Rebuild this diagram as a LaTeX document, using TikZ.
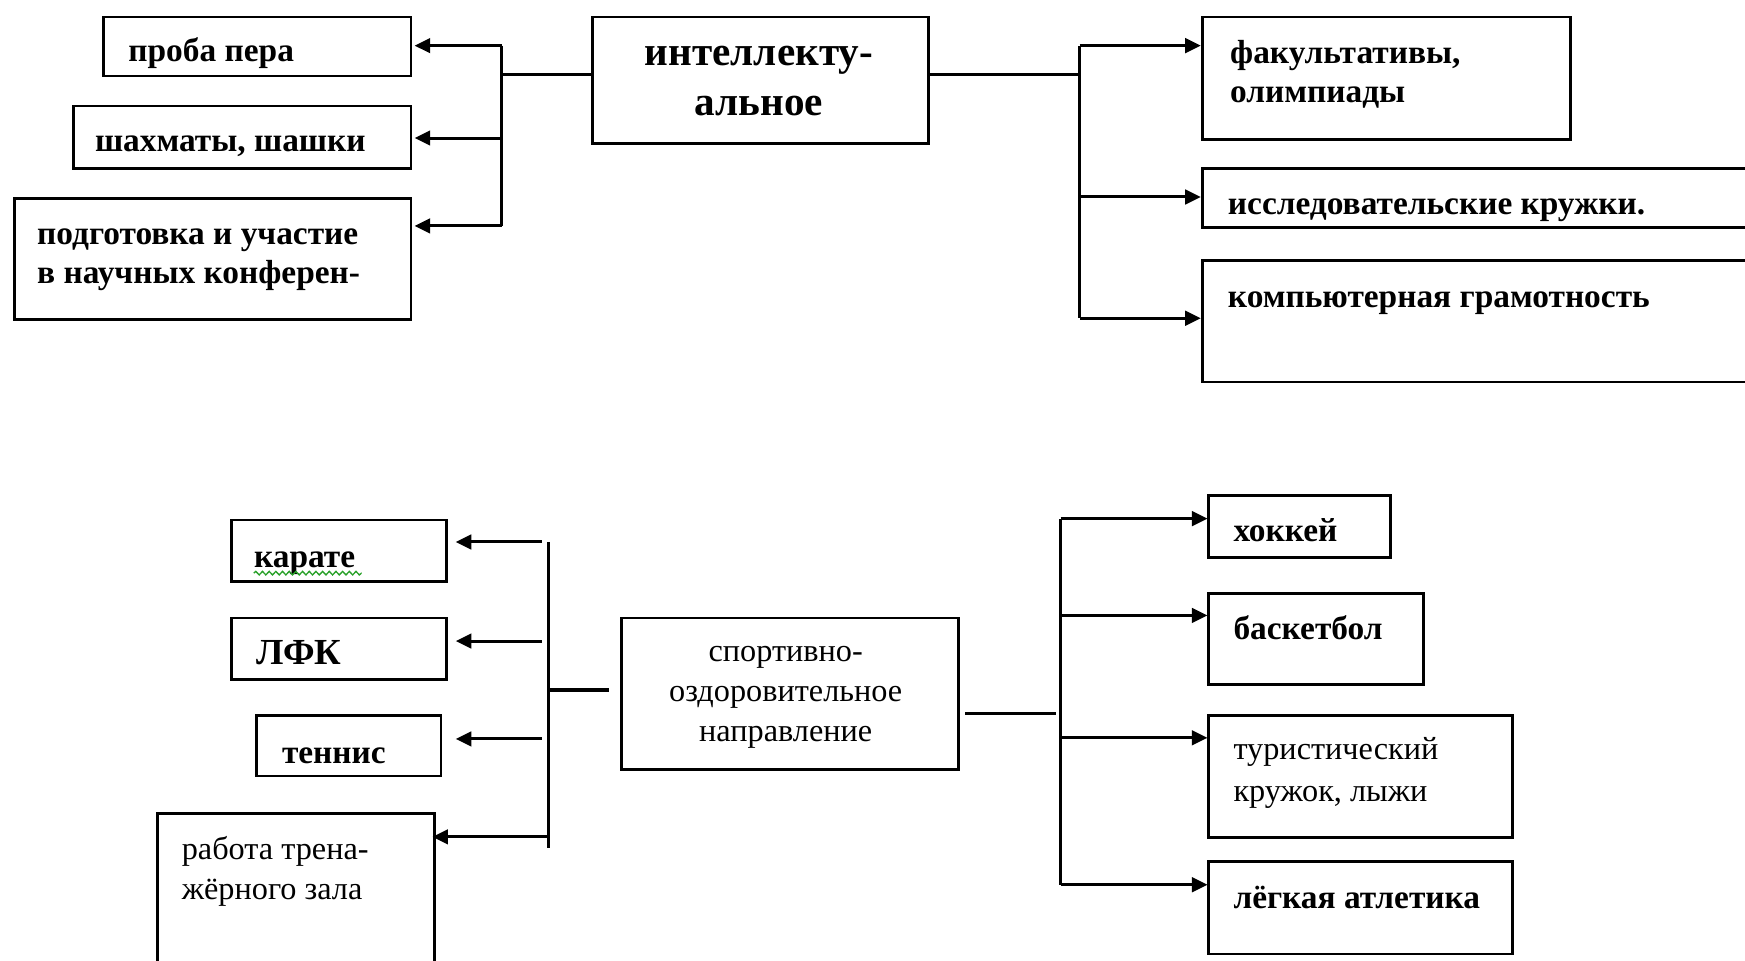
\documentclass[tikz,border=0pt]{standalone}
\usepackage{fontspec}
\setmainfont{Liberation Serif}
\usetikzlibrary{arrows.meta,decorations.pathmorphing}
\definecolor{spell}{RGB}{40,160,40}
\begin{document}
\begin{tikzpicture}[x=0.5pt,y=-0.5pt,
  bx/.style={draw,line width=1.25pt,rectangle,inner sep=0pt,anchor=north west},
  ln/.style={line width=1.35pt},
  arr/.style={line width=1.35pt,-{Triangle[length=7pt,width=6.5pt]}},
  tb/.style={anchor=base west,inner sep=0pt,font=\fontsize{15}{18}\selectfont\bfseries},
  tr/.style={anchor=base west,inner sep=0pt,font=\fontsize{14.5}{18}\selectfont},
  tbig/.style={anchor=base,inner sep=0pt,font=\fontsize{18.5}{22}\selectfont\bfseries},
  tc/.style={anchor=base,inner sep=0pt,font=\fontsize{14.5}{18}\selectfont},
]
\clip (0,0) rectangle (1568,863);
% ---------- top: boxes ----------
\node[bx,minimum width=138pt,minimum height=26.5pt] (b1) at (92,14) {};
\node[bx,minimum width=151.5pt,minimum height=28pt] (b2) at (65,94) {};
\node[bx,minimum width=178pt,minimum height=54.5pt] (b3) at (12,177) {};
\node[bx,minimum width=151pt,minimum height=57pt] (main) at (531,14) {};
\node[bx,minimum width=165.5pt,minimum height=55pt] (f1) at (1079,14) {};
\node[bx,minimum width=255.5pt,minimum height=26.5pt] (f2) at (1079,150) {};
\node[bx,minimum width=255.5pt,minimum height=54.5pt] (f3) at (1079,233) {};
% ---------- top: texts ----------
\node[tb] (t1) at (115,55) {проба пера};
\node[tb] (t2) at (85,136) {шахматы, шашки};
\node[tb] (t3a) at (33,220) {подготовка и участие};
\node[tb] (t3b) at (33,255) {в научных конферен-};
\node[tbig] (tma) at (682,59) {интеллекту-};
\node[tbig] (tmb) at (682,104) {альное};
\node[tb] (tf1a) at (1105,57) {факультативы,};
\node[tb] (tf1b) at (1105,92) {олимпиады};
\node[tb] (tf2) at (1103,193) {исследовательские кружки.};
\node[tb] (tf3) at (1103,276) {компьютерная грамотность};
% ---------- top: connectors ----------
\coordinate (L1) at (451,41);
\coordinate (L2) at (451,124);
\coordinate (L3) at (451,203);
\coordinate (Lm) at (451,67);
\draw[ln] (L1) -- (L3);
\draw[ln] (Lm) -- (main.west |- Lm);
\draw[arr,shorten >=1pt] (L1) -- (b1.east |- L1);
\draw[arr,shorten >=1pt] (L2) -- (b2.east |- L2);
\draw[arr,shorten >=1pt] (L3) -- (b3.east |- L3);
\coordinate (R1) at (970,41);
\coordinate (R2) at (970,177);
\coordinate (R3) at (970,286);
\coordinate (Rm) at (970,67);
\draw[ln] (R1) -- (R3);
\draw[ln] (main.east |- Rm) -- (Rm);
\draw[arr] (R1) -- (f1.west |- R1);
\draw[arr] (R2) -- (f2.west |- R2);
\draw[arr] (R3) -- (f3.west |- R3);
% ---------- bottom: boxes ----------
\node[bx,minimum width=96.5pt,minimum height=27.5pt] (k1) at (207,466) {};
\node[bx,minimum width=96.5pt,minimum height=27.5pt] (k2) at (207,554) {};
\node[bx,minimum width=83pt,minimum height=27pt] (k3) at (229,642) {};
\node[bx,minimum width=124.5pt,minimum height=80pt] (k4) at (140,730) {};
\node[bx,minimum width=151.5pt,minimum height=68pt] (sp) at (557,554) {};
\node[bx,minimum width=81.5pt,minimum height=28pt] (h1) at (1085,444) {};
\node[bx,minimum width=96.5pt,minimum height=41pt] (h2) at (1085,532) {};
\node[bx,minimum width=136.5pt,minimum height=54.5pt] (h3) at (1085,642) {};
\node[bx,minimum width=136.5pt,minimum height=41.5pt] (h4) at (1085,773) {};
% ---------- bottom: texts ----------
\node[tb] (tk1) at (228,510) {карате};
\draw[spell,line width=0.6pt,decorate,decoration={snake,amplitude=0.8pt,segment length=3pt}]
  (tk1.base west) ++(0,5) -- ++(97,0);
\node[tb,font=\fontsize{16.5}{20}\selectfont\bfseries] (tk2) at (230,597) {ЛФК};
\node[tb] (tk3) at (253,686) {теннис};
\node[tr] (tk4a) at (163,772) {работа трена-};
\node[tr] (tk4b) at (163,808) {жёрного зала};
\node[tc] (tspa) at (706,594) {спортивно-};
\node[tc] (tspb) at (706,630) {оздоровительное};
\node[tc] (tspc) at (706,666) {направление};
\node[tb] (th1) at (1108,487) {хоккей};
\node[tb] (th2) at (1108,575) {баскетбол};
\node[tr] (th3a) at (1108,682) {туристический};
\node[tr] (th3b) at (1108,720) {кружок, лыжи};
\node[tb] (th4) at (1108,816) {лёгкая атлетика};
% ---------- bottom: connectors ----------
\coordinate (B1) at (493,487);
\coordinate (B2) at (493,762);
\coordinate (Bm) at (493,620);
\draw[ln] (B1) -- (B2);
\draw[ln] (Bm) -- ([xshift=-5pt]sp.west |- Bm);
\coordinate (S1) at (487,487);
\coordinate (S2) at (487,576);
\coordinate (S3) at (487,664);
\coordinate (S4) at (487,752);
\draw[arr,shorten >=3.5pt] (S1) -- (k1.east |- S1);
\draw[arr,shorten >=3.5pt] (S2) -- (k2.east |- S2);
\draw[arr,shorten >=6pt] (S3) -- (k3.east |- S3);
\draw[arr,shorten >=-1.5pt] (B1 |- S4) -- (k4.east |- S4);
\coordinate (C1) at (953,466);
\coordinate (C2) at (953,553);
\coordinate (C3) at (953,663);
\coordinate (C4) at (953,795);
\coordinate (Cm) at (949,641);
\draw[ln] (C1) -- (C4);
\draw[ln] ([xshift=2.5pt]sp.east |- Cm) -- (Cm);
\draw[arr] (C1) -- (h1.west |- C1);
\draw[arr] (C2) -- (h2.west |- C2);
\draw[arr] (C3) -- (h3.west |- C3);
\draw[arr] (C4) -- (h4.west |- C4);
\end{tikzpicture}
\end{document}
